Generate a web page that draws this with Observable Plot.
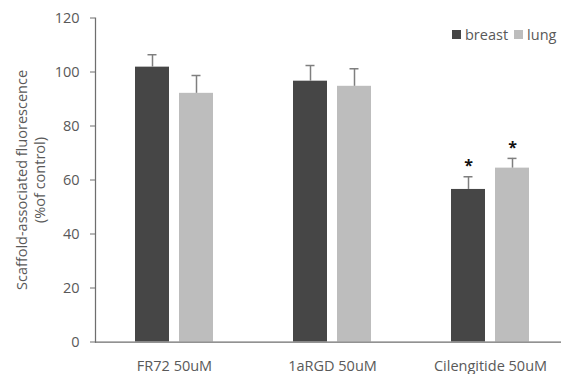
<!DOCTYPE html>
<html>
<head>
<meta charset="utf-8">
<script src="https://cdn.jsdelivr.net/npm/d3@7"></script>
<script src="https://cdn.jsdelivr.net/npm/@observablehq/plot@0.6"></script>
<style>
  html, body { margin: 0; padding: 0; background: #fff; }
  #chart { position: relative; width: 561px; height: 374px; font-family: "Open Sans", sans-serif; }
  #legend { position: absolute; top: 25px; left: 452px; display: flex; align-items: center; font-size: 14.5px; color: #595959; white-space: nowrap; }
  #legend .sw { display: inline-block; width: 9px; height: 9px; margin-right: 4px; }
  #legend .item { display: flex; align-items: center; margin-right: 6px; }
</style>
</head>
<body>
<div id="chart"></div>
<script>
const categories = ["FR72 50uM", "1aRGD 50uM", "Cilengitide 50uM"];
const seriesNames = ["breast", "lung"];
const breastValues = [101.8, 96.6, 56.5];
const lungValues = [92.1, 94.7, 64.4];
const breastErrors = [4.6, 5.8, 4.7];
const lungErrors = [6.6, 6.5, 3.6];
const breastSignificant = [false, false, true];
const lungSignificant = [false, false, true];
const yTicks = [0, 20, 40, 60, 80, 100, 120];
const seriesColors = ["#464646", "#bdbdbd"];
const yTitle = "Scaffold-associated fluorescence\n(%of control)";

const rows = categories.flatMap((c, i) => [
  {category: c, series: seriesNames[0], value: breastValues[i], err: breastErrors[i], sig: breastSignificant[i]},
  {category: c, series: seriesNames[1], value: lungValues[i], err: lungErrors[i], sig: lungSignificant[i]}
]);
const errTop = d => d.value + d.err;
const lineColor = "#6e6e6e";

const plot = Plot.plot({
  width: 561,
  height: 374,
  marginLeft: 95,
  marginRight: -8,
  marginTop: 17.5,
  marginBottom: 32.5,
  style: {fontFamily: "Open Sans", fontSize: "14.5px", color: "#595959", background: "white"},
  fx: {domain: categories, padding: 0},
  x: {domain: seriesNames, paddingInner: 0.227, paddingOuter: 0.908, axis: null},
  y: {domain: [0, 120]},
  color: {domain: seriesNames, range: seriesColors},
  marks: [
    Plot.barY(rows, {fx: "category", x: "series", y: "value", fill: "series"}),
    Plot.ruleX(rows, {fx: "category", x: "series", y1: "value", y2: errTop, stroke: "#7f7f7f", strokeWidth: 1.5}),
    Plot.tickY(rows, {fx: "category", x: "series", y: errTop, stroke: "#7f7f7f", strokeWidth: 1.5, insetLeft: 12.5, insetRight: 12.5}),
    Plot.text(rows.filter(d => d.sig), {fx: "category", x: "series", y: errTop, text: () => "*", dy: -11, fontSize: 16, fontWeight: "bold", fill: "#111"}),
    Plot.ruleY([0], {stroke: lineColor, strokeWidth: 1.25}),
    Plot.frame({anchor: "left", facetAnchor: "left", stroke: lineColor, strokeWidth: 1.25}),
    Plot.axisY({ticks: yTicks, tickSize: 5, tickPadding: 11, label: null, stroke: lineColor}),
    Plot.axisFx({anchor: "bottom", tickSize: 0, tickPadding: 19, label: null}),
    Plot.text([yTitle], {frameAnchor: "left", facetAnchor: "left", rotate: -90, dx: -65.6, text: d => d, textAnchor: "middle", lineAnchor: "middle", lineHeight: 1.24, fontSize: 14.5, fill: "#595959"})
  ]
});
const chart = document.getElementById("chart");
chart.appendChild(plot);

const legend = document.createElement("div");
legend.id = "legend";
seriesNames.forEach((s, i) => {
  const item = document.createElement("span");
  item.className = "item";
  const sw = document.createElement("span");
  sw.className = "sw";
  sw.style.background = seriesColors[i];
  item.appendChild(sw);
  item.appendChild(document.createTextNode(s));
  legend.appendChild(item);
});
chart.appendChild(legend);
</script>
</body>
</html>
